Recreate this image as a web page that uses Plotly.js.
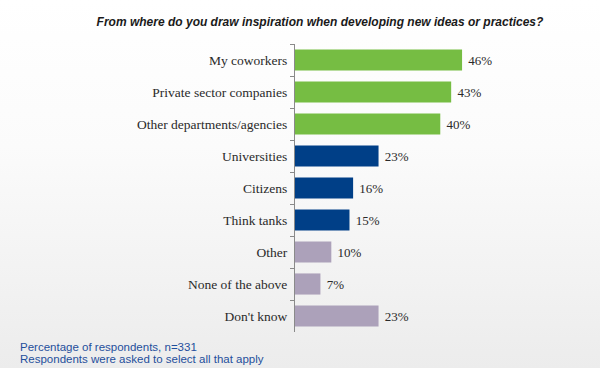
<!DOCTYPE html>
<html>
<head>
<meta charset="utf-8">
<script src="https://cdn.plot.ly/plotly-3.0.1.min.js"></script>
<style>
html,body{margin:0;padding:0;}
body{width:600px;height:368px;background:linear-gradient(180deg,#ffffff 0%,#fbfbfb 40%,#ececec 100%);}
#chart{width:600px;height:368px;}
</style>
</head>
<body>
<div id="chart"></div>
<script>
const categories = ["My coworkers","Private sector companies","Other departments/agencies","Universities","Citizens","Think tanks","Other","None of the above","Don't know"];
const values = [46,43,40,23,16,15,10,7,23];
const groups = ["green","green","green","navy","navy","navy","grey","grey","grey"];
const groupColors = {green:"#76bd43", navy:"#003f87", grey:"#aca1ba"};
const titleText = "From where do you draw inspiration when developing new ideas or practices?";
const notes = ["Percentage of respondents, n=331","Respondents were asked to select all that apply"];

const trace = {
  type: "bar",
  orientation: "h",
  y: categories,
  x: values,
  marker: {color: groups.map(g => groupColors[g])},
  text: values.map(v => "\u2005" + v + "%"),
  textposition: "outside",
  cliponaxis: false,
  textfont: {family: "'Liberation Serif', Georgia, serif", size: 13, color: "#2a2a2a"},
  hoverinfo: "none"
};

const W = 300, L = 295, B = 332, H = 288;
const layout = {
  width: 600, height: 368,
  margin: {l: L, r: 5, t: 44, b: 36},
  paper_bgcolor: "rgba(0,0,0,0)",
  plot_bgcolor: "rgba(0,0,0,0)",
  bargap: 0.34,
  showlegend: false,
  title: {
    text: "<b><i>" + titleText + "</i></b>",
    font: {family: "'Liberation Sans', Arial, sans-serif", size: 12, color: "#1a1a1a"},
    x: 320/600, xanchor: "center", xref: "container",
    y: 1 - 22/368, yanchor: "middle", yref: "container"
  },
  xaxis: {range: [0, 82.6], visible: false, fixedrange: true},
  yaxis: {
    type: "category",
    autorange: "reversed",
    showline: true, linecolor: "#8a8a8a", linewidth: 1,
    ticks: "outside", tickson: "boundaries", ticklen: 4, tickcolor: "#8a8a8a",
    ticklabelstandoff: 4,
    showgrid: false, zeroline: false,
    tickfont: {family: "'Liberation Serif', Georgia, serif", size: 13.5, color: "#2a2a2a"}
  },
  annotations: notes.map((t, i) => ({
    text: t, showarrow: false,
    xref: "paper", yref: "paper",
    x: (18 - L) / W, xanchor: "left",
    y: -(15 + 12 * i) / H, yanchor: "middle",
    font: {family: "'Liberation Sans', Arial, sans-serif", size: 11.5, color: "#1f4f9c"}
  }))
};

Plotly.newPlot("chart", [trace], layout, {displayModeBar: false, staticPlot: true});
</script>
</body>
</html>
